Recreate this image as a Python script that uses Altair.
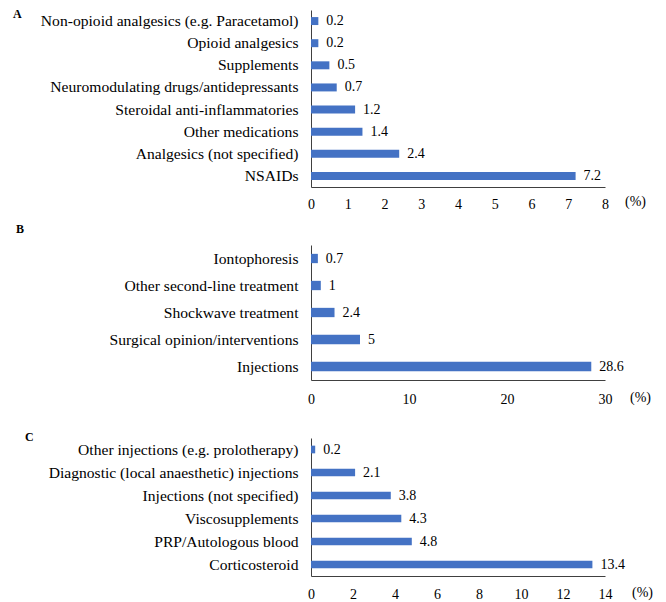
import altair as alt
import pandas as pd

# Panel A
a_cats = [
    "Non-opioid analgesics (e.g. Paracetamol)",
    "Opioid analgesics",
    "Supplements",
    "Neuromodulating drugs/antidepressants",
    "Steroidal anti-inflammatories",
    "Other medications",
    "Analgesics (not specified)",
    "NSAIDs",
]
a_vals = [0.2, 0.2, 0.5, 0.7, 1.2, 1.4, 2.4, 7.2]
a_ticks = [0, 1, 2, 3, 4, 5, 6, 7, 8]

# Panel B
b_cats = [
    "Iontophoresis",
    "Other second-line treatment",
    "Shockwave treatment",
    "Surgical opinion/interventions",
    "Injections",
]
b_vals = [0.7, 1, 2.4, 5, 28.6]
b_ticks = [0, 10, 20, 30]

# Panel C
c_cats = [
    "Other injections (e.g. prolotherapy)",
    "Diagnostic (local anaesthetic)  injections",
    "Injections (not specified)",
    "Viscosupplements",
    "PRP/Autologous blood",
    "Corticosteroid",
]
c_vals = [0.2, 2.1, 3.8, 4.3, 4.8, 13.4]
c_ticks = [0, 2, 4, 6, 8, 10, 12, 14]

FONT = "Liberation Serif, Times New Roman, Times, serif"
W = 294
BLUE = "#4472C4"
AXC = "#404040"


def panel(cats, vals, letter, ticks, h, pad_inner, letter_x, letter_y,
          lab_pad, title_x, title_y):
    df = pd.DataFrame({"cat": cats, "val": vals})
    base = alt.Chart(df).encode(
        y=alt.Y(
            "cat:N", sort=None,
            scale=alt.Scale(paddingInner=pad_inner, paddingOuter=pad_inner / 2),
            axis=alt.Axis(title=None, ticks=False, labelPadding=13,
                          labelFontSize=15.6, labelFont=FONT, labelColor="black",
                          domainColor=AXC, labelLimit=500),
        ),
        x=alt.X(
            "val:Q",
            scale=alt.Scale(domain=[ticks[0], ticks[-1]], nice=False),
            axis=alt.Axis(values=ticks, title="(%)", ticks=False, grid=False,
                          labelPadding=lab_pad, labelFontSize=14, labelFont=FONT,
                          labelColor="black", domainColor=AXC, labelFlush=False,
                          labelOverlap=False,
                          titleX=title_x, titleY=title_y, titleAlign="center",
                          titleBaseline="middle", titleFont=FONT, titleFontSize=14,
                          titleFontWeight="normal", titleColor="black"),
        ),
    )
    bars = base.mark_bar(color=BLUE)
    labels = base.mark_text(align="left", baseline="middle", dx=8, font=FONT,
                            fontSize=14, color="black").encode(text="val:Q")
    letter_df = pd.DataFrame({"letter": [letter]})
    let = alt.Chart(letter_df).mark_text(
        align="left", baseline="middle", font=FONT, fontSize=12,
        fontWeight="bold", color="black"
    ).encode(text="letter:N", x=alt.value(letter_x), y=alt.value(letter_y))
    return alt.layer(bars, labels, let).properties(width=W, height=h)


pA = panel(a_cats, a_vals, "A", a_ticks, 177, 0.64, -298, 4, 10, 324, 14)
pB = panel(b_cats, b_vals, "B", b_ticks, 135, 0.655, -295, -16, 12, 329, 17)
pC = panel(c_cats, c_vals, "C", c_ticks, 138, 0.665, -286, -1.5, 11, 331, 16)

chart = alt.vconcat(pA, pB, pC, spacing=58, bounds="flush").properties(
    padding={"left": 5, "top": 0, "right": 5, "bottom": 0}
).configure_view(stroke=None).configure_axis(grid=False).configure_text(font=FONT)

chart.save("out.html", embed_options={"renderer": "svg", "actions": False})
